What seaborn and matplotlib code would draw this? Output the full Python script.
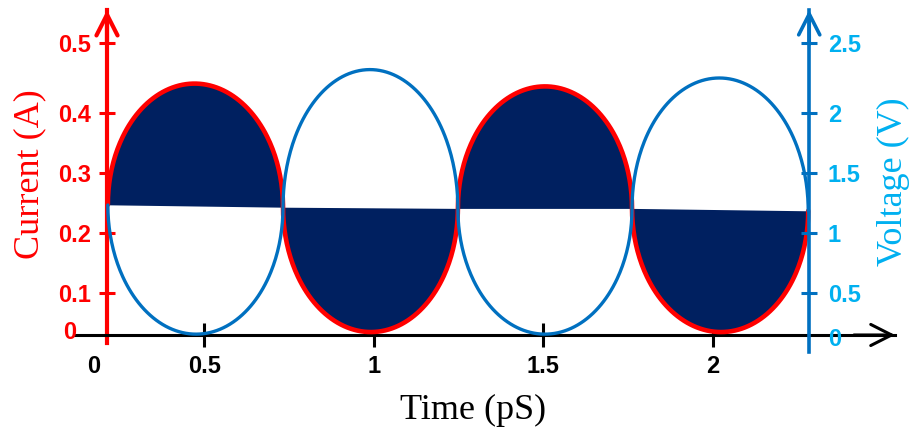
import numpy as np
import pandas as pd
import matplotlib
matplotlib.use("Agg")
import matplotlib.pyplot as plt
import seaborn as sns

# ---------------------------------------------------------------- data
# instants where current and voltage swap over (pS)
crossing_times = [0.215, 0.732, 1.248, 1.762, 2.282]
# extremum reached in each half cycle
current_peaks = [0.442, 0.007, 0.438, 0.007]      # A
voltage_peaks = [0.01, 2.31, 0.01, 2.25]          # V
# offset level of the waveforms at every crossing
current_mid = [0.247, 0.243, 0.241, 0.241, 0.237]  # A
voltage_mid = [1.233, 1.217, 1.204, 1.204, 1.183]  # V

current_ticks = [0.1, 0.2, 0.3, 0.4, 0.5]
current_labels = ["0.1", "0.2", "0.3", "0.4", "0.5"]
voltage_ticks = [0.5, 1.0, 1.5, 2.0, 2.5]
voltage_labels = ["0.5", "1", "1.5", "2", "2.5"]
time_ticks = [0.5, 1.0, 1.5, 2.0]
time_labels = ["0.5", "1", "1.5", "2"]

# ---------------------------------------------------------------- scale
# the printed current/voltage graduations are unevenly spaced, so the
# vertical scale is piecewise linear through those graduations
scale_levels = np.array([-0.1, 0.0, 0.1, 0.2, 0.3, 0.4, 0.5, 0.6])
scale_heights = np.array([-42.0, 0.0, 42.0, 102.0, 162.0, 222.0, 292.0, 362.0])
VOLT_PER_AMP = 5.0


def fwd_current(v):
    return np.interp(np.asarray(v, dtype=float), scale_levels, scale_heights)


def inv_current(p):
    return np.interp(np.asarray(p, dtype=float), scale_heights, scale_levels)


def fwd_voltage(v):
    return fwd_current(np.asarray(v, dtype=float) / VOLT_PER_AMP)


def inv_voltage(p):
    return inv_current(p) * VOLT_PER_AMP


def half_cycles(times, peaks, mids, fwd, inv, n=160):
    """Elliptic half-cycle lobes between successive crossings."""
    ts, vals, base = [], [], []
    for k, peak in enumerate(peaks):
        t0, t1 = times[k], times[k + 1]
        th = np.linspace(0.0, np.pi, n)
        w = (1.0 - np.cos(th)) / 2.0
        p0, p1 = fwd(mids[k]), fwd(mids[k + 1])
        pm = p0 + (p1 - p0) * w
        amp = fwd(peak) - (p0 + p1) / 2.0
        ts.append(t0 + (t1 - t0) * w)
        vals.append(inv(pm + amp * np.sin(th)))
        base.append(inv(pm))
    return np.concatenate(ts), np.concatenate(vals), np.concatenate(base)


t_i, i_vals, i_base = half_cycles(crossing_times, current_peaks, current_mid,
                                  fwd_current, inv_current)
t_v, v_vals, _ = half_cycles(crossing_times, voltage_peaks, voltage_mid,
                             fwd_voltage, inv_voltage)
df_i = pd.DataFrame({"time": t_i, "current": i_vals})
df_v = pd.DataFrame({"time": t_v, "voltage": v_vals})

# ---------------------------------------------------------------- style
RED = "#FF0000"
BLUE = "#0070C0"
LIGHT_BLUE = "#00B0F0"
NAVY = "#002060"
TICK_FONT = dict(family="Liberation Sans", weight="bold", size=17)
LABEL_FONT = dict(family="Liberation Serif", size=26)

sns.set_theme(style="white")
plt.rcParams["font.family"] = ["Liberation Sans", "DejaVu Sans"]

fig = plt.figure(figsize=(9.11, 4.33), dpi=100)
ax = fig.add_axes([0.0823, 0.1871, 0.9001, 0.7898])
ax.set_yscale("function", functions=(fwd_current, inv_current))
ax2 = ax.twinx()
ax2.set_yscale("function", functions=(fwd_voltage, inv_voltage))

x_left, x_right = 0.2125, 2.285     # positions of the two vertical axes
ax.set_xlim(0.118, 2.538)
ax.set_ylim(inv_current(-17), inv_current(325))
ax2.set_ylim(inv_voltage(-17), inv_voltage(325))

# shaded area between current and its offset level
ax.fill_between(t_i, i_vals, i_base, color=NAVY, lw=0, zorder=1)
sns.lineplot(data=df_i, x="time", y="current", ax=ax, color=RED, lw=3.3,
             estimator=None, sort=False, zorder=3)
sns.lineplot(data=df_v, x="time", y="voltage", ax=ax2, color=BLUE, lw=2.4,
             estimator=None, sort=False, zorder=3)

# ---------------------------------------------------------------- axes
for side in ("top", "right"):
    ax.spines[side].set_visible(False)
for side in ("top", "left", "bottom"):
    ax2.spines[side].set_visible(False)

ax.spines["left"].set_position(("data", x_left))
ax.spines["left"].set_color(RED)
ax.spines["left"].set_linewidth(3)
ax.spines["left"].set_bounds(inv_current(-8), inv_current(325))
ax.spines["bottom"].set_position(("data", 0))
ax.spines["bottom"].set_color("black")
ax.spines["bottom"].set_linewidth(2.2)
ax2.spines["right"].set_position(("data", x_right))
ax2.spines["right"].set_color(BLUE)
ax2.spines["right"].set_linewidth(2.6)

arrow_kw = dict(arrowstyle="->,head_length=0.75,head_width=0.38",
                mutation_scale=20, shrinkA=0, shrinkB=0)
ax.annotate("", xy=(x_left, 1.0), xytext=(x_left, 0.9),
            xycoords=("data", "axes fraction"), annotation_clip=False,
            arrowprops=dict(color=RED, lw=3, **arrow_kw))
ax2.annotate("", xy=(x_right, 1.0), xytext=(x_right, 0.9),
             xycoords=("data", "axes fraction"), annotation_clip=False,
             arrowprops=dict(color=BLUE, lw=2.6, **arrow_kw))
ax.annotate("", xy=(1.0, 0), xytext=(0.95, 0),
            xycoords=("axes fraction", "data"), annotation_clip=False,
            arrowprops=dict(color="black", lw=2.2, **arrow_kw))

ax.set_yticks(current_ticks)
ax.set_yticklabels(current_labels, color=RED, **TICK_FONT)
ax.tick_params(axis="y", direction="inout", length=11, width=2.2,
               color=RED, pad=6, left=True)
ax2.set_yticks(voltage_ticks)
ax2.set_yticklabels(voltage_labels, color=LIGHT_BLUE, **TICK_FONT)
ax2.tick_params(axis="y", direction="inout", length=11, width=2.2,
                color=BLUE, pad=8, right=True)
ax.set_xticks(time_ticks)
ax.set_xticklabels(time_labels, color="black", **TICK_FONT)
ax.tick_params(axis="x", direction="inout", length=17, width=2.2,
               color="black", pad=6, bottom=True)

# origin labels
ax.annotate("0", xy=(x_left, 0), xytext=(-22, 1.5), textcoords="offset points",
            ha="right", va="center", color=RED, **TICK_FONT)
ax.annotate("0", xy=(x_left, 0), xytext=(-9.4, -23), textcoords="offset points",
            ha="center", va="center", color="black", **TICK_FONT)
ax2.annotate("0", xy=(x_right, 0), xytext=(13.7, -2.9), textcoords="offset points",
             ha="left", va="center", color=LIGHT_BLUE, **TICK_FONT)

ax.set_ylabel("Current (A)", color=RED, **LABEL_FONT)
ax.yaxis.set_label_coords(-0.0549, 0.52)
ax.yaxis.label.set_va("center")
ax2.set_ylabel("Voltage (V)", color=LIGHT_BLUE, rotation=90, **LABEL_FONT)
ax2.yaxis.set_label_coords(0.9976, 0.497)
ax2.yaxis.label.set_va("center")
ax.set_xlabel("Time (pS)", color="black", **LABEL_FONT)
ax.xaxis.set_label_coords(0.4854, -0.1696)
ax.xaxis.label.set_va("center")

fig.savefig("out.png", dpi=100)
